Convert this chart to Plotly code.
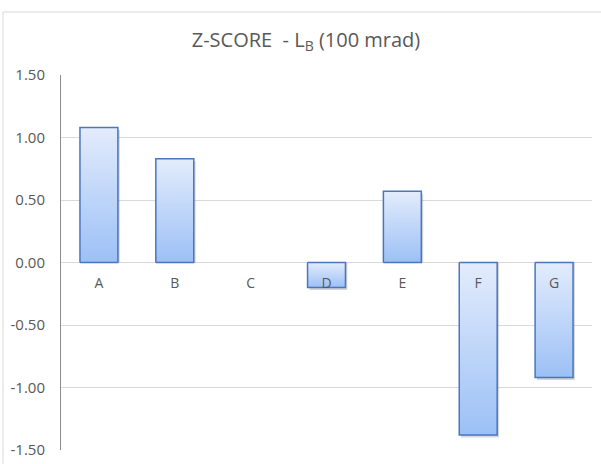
import plotly.graph_objects as go

"""Z-score bar chart, Excel look with gradient filled bars"""

categories = ["A", "B", "C", "D", "E", "F", "G"]
z_scores = [1.08, 0.83, 0.00, -0.20, 0.57, -1.38, -0.92]
y_ticks = [-1.5, -1.0, -0.5, 0.0, 0.5, 1.0, 1.5]

W, H = 601, 464
M_L, M_R, M_T, M_B = 61, 9, 75, 14
GREY_TXT = "#595959"
GRID = "#D9D9D9"
EDGE = "#4A76C0"
LIGHT = "#E3ECFC"
DARK = "#9CC0F6"
HALF = 0.25  # half bar width in category units (gap width 100%)

fig = go.Figure()

for i, v in enumerate(z_scores):
    if v == 0:
        continue
    # soft shadow behind the bar
    fig.add_trace(
        go.Scatter(
            x=[i - HALF + 0.025, i + HALF + 0.025, i + HALF + 0.025, i - HALF + 0.025, i - HALF + 0.025],
            y=[0, 0, v - 0.02, v - 0.02, 0],
            mode="lines",
            line=dict(color="rgba(0,0,0,0)", width=0),
            fill="toself",
            fillcolor="rgba(120,120,120,0.3)",
            hoverinfo="skip",
            showlegend=False,
        )
    )
    fig.add_trace(
        go.Scatter(
            x=[i - HALF, i + HALF, i + HALF, i - HALF, i - HALF],
            y=[0, 0, v, v, 0],
            mode="lines",
            line=dict(color=EDGE, width=1.5),
            fill="toself",
            fillgradient=dict(type="vertical", colorscale=[[0, DARK], [1, LIGHT]]),
            name=categories[i],
            showlegend=False,
        )
    )

fig.update_layout(
    width=W,
    height=H,
    margin=dict(l=M_L, r=M_R, t=M_T, b=M_B, autoexpand=False),
    paper_bgcolor="white",
    plot_bgcolor="white",
    font=dict(family="Open Sans, sans-serif", color=GREY_TXT, size=15),
    title=dict(
        text="Z-SCORE\u00a0 - L<sub>B</sub> (100 mrad)",
        x=(306 - M_L) / (W - M_L - M_R),
        xref="paper",
        xanchor="center",
        y=1 - 40 / H,
        yanchor="middle",
        font=dict(size=20, color=GREY_TXT),
    ),
    showlegend=False,
)

fig.update_xaxes(
    range=[-0.5, len(categories) - 0.5],
    tickvals=list(range(len(categories))),
    ticktext=categories,
    showgrid=False,
    zeroline=False,
    showline=False,
    anchor="free",
    position=0.5,
    ticks="outside",
    ticklen=8,
    tickcolor="rgba(0,0,0,0)",
    tickfont=dict(size=14, color=GREY_TXT),
    automargin=False,
    fixedrange=True,
)

fig.update_yaxes(
    range=[-1.5, 1.5],
    tickvals=y_ticks,
    ticktext=[f"{t:.2f}" for t in y_ticks],
    showgrid=True,
    gridcolor=GRID,
    gridwidth=1,
    zeroline=True,
    zerolinecolor=GRID,
    zerolinewidth=1,
    showline=True,
    linecolor="#8C8C8C",
    linewidth=1,
    ticks="outside",
    ticklen=12,
    tickcolor="rgba(0,0,0,0)",
    tickfont=dict(size=15, color=GREY_TXT),
    automargin=False,
    fixedrange=True,
)

# chart area border
pw, ph = W - M_L - M_R, H - M_T - M_B
fig.add_shape(
    type="rect",
    xref="paper",
    yref="paper",
    x0=(3 - M_L) / pw,
    x1=(605 - M_L) / pw,
    y0=-(M_B + 10) / ph,
    y1=1 + (M_T - 12) / ph,
    line=dict(color=GRID, width=1),
    layer="below",
)

fig.write_html(
    "out.html",
    config={"displayModeBar": False},
    post_script="document.body.style.margin='0';",
)
